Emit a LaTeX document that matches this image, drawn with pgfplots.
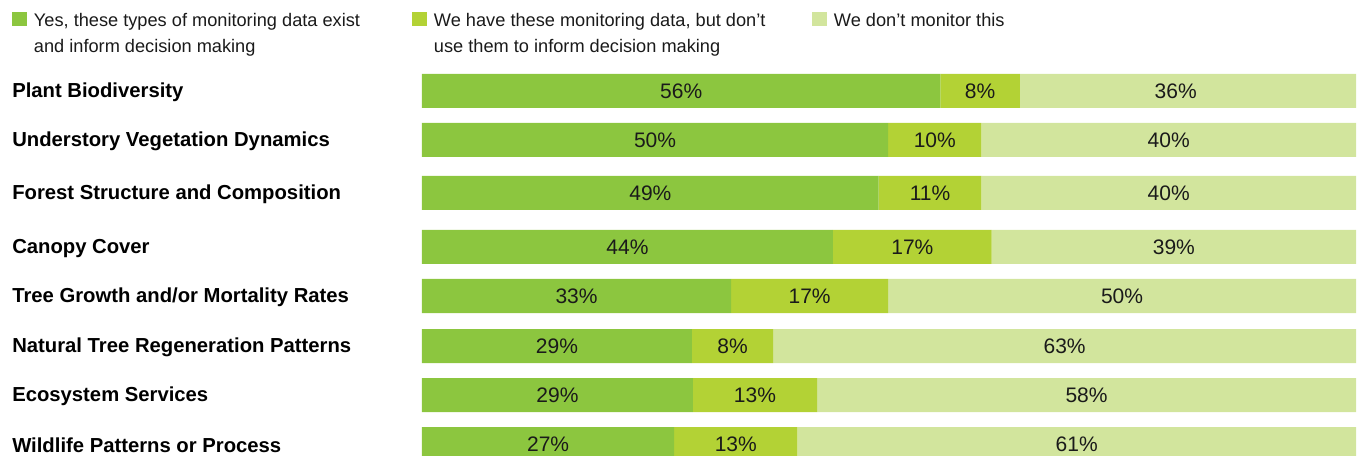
\documentclass[border=0pt]{standalone}
\usepackage{pgfplots}
\usepackage{pgfplotstable}
\pgfplotsset{compat=1.18}
\usepackage{fontspec}
\setmainfont{Liberation Sans}
\definecolor{cA}{HTML}{8CC63F}
\definecolor{cB}{HTML}{B3D235}
\definecolor{cC}{HTML}{D2E59D}
\definecolor{txt}{HTML}{1A1A1A}

\pgfplotstableread{
pos a b c la lb lc dx
91 55.5 8.5 36.0 56 8 36 -1.3
140 49.9 10.0 40.1 50 10 40 0
193 48.9 11.0 40.1 49 11 40 0
247 44.0 17.0 39.0 44 17 39 0
296 33.1 16.8 50.1 33 17 50 0
346 28.9 8.7 62.4 29 8 63 0
395 29.0 13.3 57.7 29 13 58 0
444 27.0 13.2 59.8 27 13 61 0
}\data

\begin{document}
\begin{tikzpicture}
\path[use as bounding box] (0,0) rectangle (1020.75pt,342pt);
\begin{axis}[
  at={(316.5pt,0pt)}, anchor=south west,
  scale only axis, width=700.5pt, height=342pt,
  xmin=0, xmax=100, ymin=0, ymax=456, y dir=reverse,
  enlargelimits=false,
  xbar stacked, bar width=25.5pt,
  axis line style={draw=none}, tick style={draw=none},
  xtick=\empty,
  ytick={91,140,193,247,296,346,395,444},
  yticklabels={Plant Biodiversity, Understory Vegetation Dynamics, Forest Structure and Composition, Canopy Cover, Tree Growth and/or Mortality Rates, Natural Tree Regeneration Patterns, Ecosystem Services, Wildlife Patterns or Process},
  yticklabel style={anchor=west, inner sep=0pt, xshift=-307.5pt, yshift=-0.9pt, font=\fontsize{15.2pt}{18pt}\selectfont\bfseries, text=black},
  legend columns=3,
  legend style={at={(-0.439,0.974)}, anchor=north west, draw=none, fill=none,
    inner sep=0pt, outer sep=0pt,
    nodes={inner sep=0pt, anchor=base west},
    font=\fontsize{13.65pt}{19.8pt}\selectfont, text=txt,
    /tikz/every odd column/.append style={column sep=5.6pt},
    /tikz/every even column/.append style={column sep=13.5pt}},
  legend image code/.code={\fill[#1] (0pt,0pt) rectangle (10.9pt,10.9pt);},
]
\addplot[fill=cA, draw=none] table[x=a, y=pos] {\data};
\addplot[fill=cB, draw=none] table[x=b, y=pos] {\data};
\addplot[fill=cC, draw=none] table[x=c, y=pos] {\data};
\addlegendentry{\parbox[t]{270pt}{Yes, these types of monitoring data exist\\and inform decision making}}
\addlegendentry{\parbox[t]{270pt}{We have these monitoring data, but don’t\\use them to inform decision making}}
\addlegendentry{\parbox[t]{270pt}{We don’t monitor this}}
\end{axis}
\begin{axis}[
  at={(316.5pt,0pt)}, anchor=south west,
  scale only axis, width=700.5pt, height=342pt,
  xmin=0, xmax=100, ymin=0, ymax=456, y dir=reverse,
  enlargelimits=false, hide axis, clip=false,
  /pgf/number format/assume math mode=true,
  point meta=explicit,
  nodes near coords={\pgfmathprintnumber[assume math mode=true]{\pgfplotspointmeta}\%},
  every node near coord/.append style={anchor=center, inner sep=0pt, text=txt, font=\fontsize{15.75pt}{18pt}\selectfont},
]
\addplot[only marks, mark=none] table[x expr=\thisrow{a}/2, y=pos, meta=la] {\data};
\addplot[only marks, mark=none] table[x expr=\thisrow{a}+\thisrow{b}/2, y=pos, meta=lb] {\data};
\addplot[only marks, mark=none] table[x expr=\thisrow{a}+\thisrow{b}+\thisrow{c}/2+\thisrow{dx}, y=pos, meta=lc] {\data};
\end{axis}
\end{tikzpicture}
\end{document}
